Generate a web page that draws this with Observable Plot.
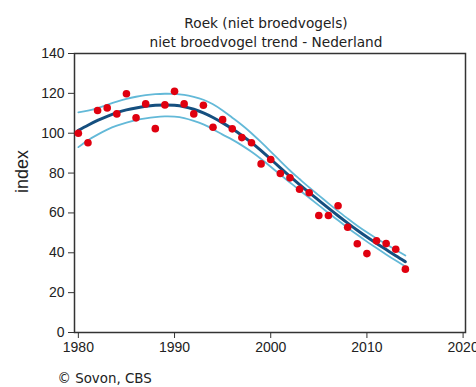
<!DOCTYPE html>
<html>
<head>
<meta charset="utf-8">
<script src="https://cdn.jsdelivr.net/npm/d3@7"></script>
<script src="https://cdn.jsdelivr.net/npm/@observablehq/plot@0.6"></script>
<style>
  html, body { margin: 0; padding: 0; background: #fff; }
</style>
</head>
<body>
<div id="chart"></div>
<script>
const title1 = "Roek (niet broedvogels)";
const title2 = "niet broedvogel trend - Nederland";
const yLabel = "index";
const caption = "© Sovon, CBS";

const years = d3.range(1980, 2015);
const observed = [100, 95.2, 111.4, 112.7, 109.7, 119.8, 107.7, 114.7, 102.3, 114.2,
  121, 114.7, 109.7, 114, 103, 106.8, 102.2, 97.8, 95.2, 84.6,
  86.8, 79.8, 77.6, 71.9, 70.1, 58.7, 58.7, 63.6, 52.8, 44.5,
  39.6, 46.0, 44.6, 41.8, 31.8];
const trend = [101.4, 104.0, 106.4, 108.5, 110.3, 111.7, 112.7, 113.5, 114.0, 114.2,
  114.0, 113.3, 112.0, 110.2, 107.9, 105.2, 102.2, 98.9, 95.3, 91.3,
  87.0, 82.6, 78.3, 74.2, 70.2, 66.3, 62.4, 58.6, 54.9, 51.3,
  47.9, 44.7, 41.6, 38.5, 35.5];
const upper = [110.5, 111.3, 112.6, 114.2, 115.8, 117.2, 118.3, 119.1, 119.6, 119.8,
  119.7, 119.2, 118.2, 116.8, 114.5, 111.4, 107.8, 104.1, 100.0, 95.5,
  90.8, 86.0, 81.3, 77.0, 72.8, 68.8, 64.8, 60.9, 57.2, 53.6,
  50.3, 47.2, 44.3, 41.4, 38.6];
const lower = [93.0, 96.5, 99.3, 101.8, 103.8, 105.3, 106.6, 107.5, 108.1, 108.4,
  108.3, 107.6, 106.2, 104.4, 102.0, 99.3, 96.8, 93.9, 90.7, 87.1,
  83.2, 79.2, 75.3, 71.4, 67.6, 63.8, 60.0, 56.3, 52.6, 49.0,
  45.6, 42.4, 39.2, 36.1, 33.1];
const xTicks = [1980, 1990, 2000, 2010, 2020];
const yTicks = [0, 20, 40, 60, 80, 100, 120, 140];

const rows = years.map((y, i) => ({year: y, obs: observed[i], trend: trend[i], upper: upper[i], lower: lower[i]}));

const chart = Plot.plot({
  width: 476,
  height: 387,
  marginTop: 53,
  marginLeft: 74,
  marginRight: 11,
  marginBottom: 55,
  style: {fontFamily: "'Liberation Sans', Arial, sans-serif", fontSize: "14px", color: "#222", background: "#fff"},
  x: {domain: [1979.6, 2020.25], ticks: xTicks, tickFormat: "d", tickSize: 6, tickPadding: 4, label: null},
  y: {domain: [0, 140], ticks: yTicks, tickSize: 6, tickPadding: 4, label: null},
  marks: [
    Plot.axisX({ticks: xTicks, tickFormat: "d", tickSize: 6, tickPadding: 4, label: null, stroke: "#333"}),
    Plot.axisY({ticks: yTicks, tickSize: 6, tickPadding: 4, label: null, stroke: "#333"}),
    Plot.frame({stroke: "#333", strokeWidth: 1.5}),
    Plot.line(rows, {x: "year", y: "upper", stroke: "#63b9d8", strokeWidth: 1.8, curve: "natural"}),
    Plot.line(rows, {x: "year", y: "lower", stroke: "#63b9d8", strokeWidth: 1.8, curve: "natural"}),
    Plot.line(rows, {x: "year", y: "trend", stroke: "#154f7f", strokeWidth: 3, curve: "natural"}),
    Plot.dot(rows, {x: "year", y: "obs", r: 3.8, fill: "#e0000f", stroke: "none"}),
    Plot.text([title1], {frameAnchor: "top", dx: -4, dy: -30, text: d => d, fontSize: 13.7, fontFamily: "'DejaVu Sans', sans-serif", fill: "#222", lineAnchor: "middle"}),
    Plot.text([title2], {frameAnchor: "top", dx: -4, dy: -11, text: d => d, fontSize: 13.7, fontFamily: "'DejaVu Sans', sans-serif", fill: "#222", lineAnchor: "middle"}),
    Plot.text([yLabel], {frameAnchor: "left", dx: -52, rotate: -90, text: d => d, fontSize: 18, fill: "#222", lineAnchor: "middle"}),
    Plot.text([caption], {frameAnchor: "bottom-left", dx: -17, dy: 46, text: d => d, textAnchor: "start", fontSize: 13.4, fontFamily: "'DejaVu Sans', sans-serif", fill: "#222", lineAnchor: "middle"})
  ]
});
document.getElementById("chart").appendChild(chart);
</script>
</body>
</html>
